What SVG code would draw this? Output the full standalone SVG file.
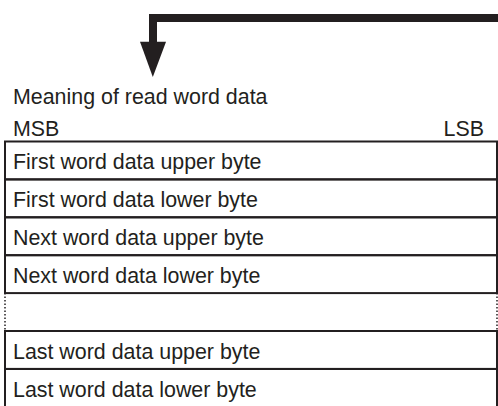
<svg xmlns="http://www.w3.org/2000/svg" width="498" height="406" viewBox="0 0 498 406">
<style>
text{font-family:"Liberation Sans",Arial,sans-serif;font-size:21.4px;fill:#231f20}
.solid{stroke:#231f20;stroke-width:2;fill:none}
.dot{stroke:#231f20;stroke-width:1.5;stroke-dasharray:1.5 2;fill:none}
</style>
<rect width="498" height="406" fill="#fff"/>
<g id="connectors">
<path d="M498 18 H153 V43" stroke="#231f20" stroke-width="8" fill="none"/>
<polygon points="140,41.7 166,41.7 152.8,77" fill="#231f20"/>
</g>
<g id="title"><text x="13" y="104">Meaning of read word data</text></g>
<g id="msb"><text x="13" y="136">MSB</text></g>
<g id="lsb"><text x="484" y="136" text-anchor="end">LSB</text></g>
<g id="row1"><rect class="solid" x="5" y="141.5" width="492" height="37.9"/><text x="13" y="169">First word data upper byte</text></g>
<g id="row2"><rect class="solid" x="5" y="179.4" width="492" height="37.9"/><text x="13" y="207">First word data lower byte</text></g>
<g id="row3"><rect class="solid" x="5" y="217.3" width="492" height="37.9"/><text x="13" y="245">Next word data upper byte</text></g>
<g id="row4"><rect class="solid" x="5" y="255.2" width="492" height="37.9"/><text x="13" y="283">Next word data lower byte</text></g>
<g id="row5"><path class="dot" d="M5 293.1 V331 M497 293.1 V331"/></g>
<g id="row6"><rect class="solid" x="5" y="331" width="492" height="37.9"/><text x="13" y="359">Last word data upper byte</text></g>
<g id="row7"><path class="solid" d="M5 368.9 H497 M5 368.9 V410 M497 368.9 V410"/><text x="13" y="397">Last word data lower byte</text></g>
</svg>
